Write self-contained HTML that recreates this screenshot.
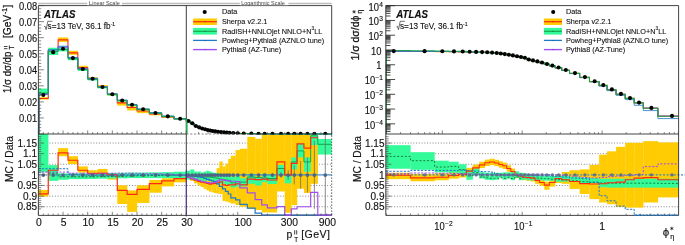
<!DOCTYPE html>
<html><head><meta charset="utf-8"><title>ATLAS</title>
<style>html,body{margin:0;padding:0;background:#fff;}body{width:685px;height:245px;overflow:hidden;}svg{display:block;stroke-width:0.14px;filter:blur(0.35px);}text{font-family:'Liberation Sans',sans-serif;stroke:#111;}</style>
</head><body>
<svg width="685" height="245" viewBox="0 0 685 245">
<defs>
<clipPath id="cl1"><rect x="38.4" y="134" width="293.3" height="81.4"/></clipPath>
<clipPath id="cl0"><rect x="38.4" y="5.6" width="293.3" height="131.4"/></clipPath>
<clipPath id="cr1"><rect x="385.8" y="134" width="292.8" height="81.4"/></clipPath>
<clipPath id="cld"><rect x="0" y="0" width="685" height="134.4"/></clipPath>
<clipPath id="cr0"><rect x="385.8" y="5.6" width="292.8" height="128.4"/></clipPath>
</defs>
<rect width="685" height="245" fill="#fff"/>
<path d="M38.4 143.04H331.7M38.4 153.66H331.7M38.4 164.28H331.7M38.4 185.52H331.7M38.4 196.14H331.7M38.4 206.76H331.7" stroke="#444" stroke-width="0.65" stroke-dasharray="1 1.75" fill="none"/>
<g clip-path="url(#cl1)">
<g fill="#ffcc03" opacity="1"><rect x="38.4" y="189.98" width="10.01" height="6.58"/><rect x="48.26" y="167.25" width="10.01" height="5.95"/><rect x="58.12" y="148.14" width="10.01" height="8.07"/><rect x="67.98" y="156.21" width="10.01" height="7.86"/><rect x="77.84" y="166.4" width="10.01" height="6.16"/><rect x="87.7" y="170.23" width="10.01" height="5.1"/><rect x="97.56" y="168.95" width="10.01" height="5.73"/><rect x="107.42" y="174.05" width="10.01" height="5.52"/><rect x="117.28" y="185.31" width="10.01" height="18.69"/><rect x="127.14" y="190.41" width="10.01" height="21.45"/><rect x="137" y="185.31" width="12.48" height="17.63"/><rect x="149.33" y="180" width="12.47" height="12.74"/><rect x="161.65" y="178.3" width="12.48" height="8.07"/><rect x="173.98" y="176.6" width="12.47" height="5.73"/><rect x="186.3" y="174.9" width="4.22" height="4.04"/><rect x="190.37" y="175.96" width="3.87" height="4.89"/><rect x="194.09" y="176.6" width="3.57" height="6.8"/><rect x="197.52" y="177.02" width="3.32" height="8.5"/><rect x="200.68" y="177.02" width="3.1" height="9.98"/><rect x="203.63" y="177.02" width="2.91" height="11.89"/><rect x="206.39" y="176.6" width="2.74" height="13.81"/><rect x="208.98" y="175.96" width="2.59" height="15.72"/><rect x="211.43" y="174.9" width="2.46" height="17.42"/><rect x="213.74" y="173.84" width="3.05" height="19.12"/><rect x="216.64" y="168.1" width="2.87" height="25.49"/><rect x="219.35" y="161.52" width="3.32" height="32.5"/><rect x="222.52" y="166.4" width="3.1" height="34.62"/><rect x="225.47" y="163.64" width="2.91" height="38.02"/><rect x="228.23" y="158.97" width="2.74" height="43.54"/><rect x="230.82" y="155.78" width="4.9" height="47.79"/><rect x="235.58" y="150.05" width="4.43" height="55.01"/><rect x="239.86" y="148.77" width="7.6" height="57.99"/><rect x="247.31" y="136.88" width="7.94" height="72"/><rect x="255.1" y="138.79" width="6.74" height="71.15"/><rect x="261.69" y="134" width="5.86" height="78.49"/><rect x="267.4" y="134" width="9.69" height="78.49"/><rect x="276.94" y="134" width="7.94" height="57.47"/><rect x="284.73" y="134" width="6.74" height="78.71"/><rect x="291.32" y="134" width="5.86" height="71.06"/><rect x="297.03" y="134" width="7.04" height="54.71"/><rect x="303.93" y="134" width="6.87" height="58.95"/><rect x="310.65" y="134" width="7.29" height="49.82"/></g>
<g fill="#33fb99" opacity="1"><rect x="38.4" y="134" width="10.01" height="38.35"/><rect x="48.26" y="165.13" width="10.01" height="15.72"/><rect x="58.12" y="173.41" width="10.01" height="6.37"/><rect x="67.98" y="173.41" width="10.01" height="5.73"/><rect x="77.84" y="173.41" width="10.01" height="5.73"/><rect x="87.7" y="173.41" width="10.01" height="5.52"/><rect x="97.56" y="173.2" width="10.01" height="5.52"/><rect x="107.42" y="172.99" width="10.01" height="5.52"/><rect x="117.28" y="172.78" width="10.01" height="5.52"/><rect x="127.14" y="172.56" width="10.01" height="5.52"/><rect x="137" y="172.56" width="12.48" height="5.52"/><rect x="149.33" y="172.35" width="12.47" height="5.73"/><rect x="161.65" y="172.14" width="12.48" height="5.95"/><rect x="173.98" y="171.71" width="12.47" height="6.37"/><rect x="186.3" y="170.65" width="4.22" height="8.92"/><rect x="190.37" y="169.38" width="3.87" height="10.62"/><rect x="194.09" y="171.5" width="3.57" height="8.5"/><rect x="197.52" y="171.5" width="3.32" height="8.92"/><rect x="200.68" y="172.35" width="3.1" height="8.5"/><rect x="203.63" y="171.5" width="2.91" height="9.35"/><rect x="206.39" y="170.65" width="2.74" height="10.2"/><rect x="208.98" y="171.5" width="2.59" height="9.35"/><rect x="211.43" y="172.35" width="2.46" height="9.35"/><rect x="213.74" y="172.78" width="3.05" height="9.35"/><rect x="216.64" y="173.2" width="2.87" height="9.77"/><rect x="219.35" y="174.05" width="3.32" height="9.77"/><rect x="222.52" y="174.48" width="3.1" height="9.98"/><rect x="225.47" y="174.9" width="2.91" height="10.2"/><rect x="228.23" y="175.32" width="2.74" height="10.2"/><rect x="230.82" y="176.6" width="4.9" height="11.04"/><rect x="235.58" y="175.96" width="4.43" height="10.62"/><rect x="239.86" y="178.3" width="7.6" height="8.07"/><rect x="247.31" y="173.84" width="7.94" height="9.98"/><rect x="255.1" y="177.02" width="6.74" height="8.5"/><rect x="261.69" y="173.63" width="5.86" height="8.5"/><rect x="267.4" y="174.69" width="9.69" height="9.35"/><rect x="276.94" y="164.92" width="7.94" height="9.77"/><rect x="284.73" y="174.9" width="6.74" height="8.5"/><rect x="291.32" y="157.48" width="5.86" height="11.89"/><rect x="297.03" y="143.46" width="7.04" height="13.81"/><rect x="303.93" y="157.48" width="6.87" height="14.23"/><rect x="310.65" y="134" width="7.29" height="11.16"/><rect x="317.79" y="139" width="14.06" height="15.51"/></g>
</g>
<g clip-path="url(#cl1)" fill="none" stroke-linejoin="miter">
<path d="M38.4 174.9H186.3" stroke="#3d86c6" stroke-width="1.1" stroke-dasharray="2.2 1.2" opacity="0.95"/>
<path d="M186.3 174.9H331.7" stroke="#3d86c6" stroke-width="1.3" opacity="0.95"/>
<path d="M251.38 174.05V175.75M258.52 173.84V175.96M264.64 173.63V176.17M272.44 173.2V176.6M281.02 171.93V177.87M288.16 169.8V180M294.27 165.34V184.46M300.62 161.09V188.71M307.42 157.27V192.53M314.37 140.92V208.88M325.31 111.18V238.62" stroke="#6e6e6e" stroke-width="0.8"/>
<path d="M48.26 173.2H58.12V176.81H67.98V176.81H77.84V176.81H87.7V176.81H97.56V176.6H107.42V176.39H117.28V176.17H127.14V175.96H137V175.75H149.33V175.54H161.65V175.32H173.98V175.11H186.3" stroke="#17803c" stroke-width="1.0" stroke-dasharray="2.2 1.5"/>
<path d="M186.3 175.11H190.37V175.75H194.09V176.17H197.52V176.6H200.68V177.02H203.63V177.02H206.39V177.02H208.98V177.02H211.43V177.45H213.74V177.87H216.64V178.3H219.35V179.15H222.52V179.57H225.47V180H228.23V180.42H230.82V182.97H235.58V181.7H239.86V182.12H247.31V177.02H255.1V177.45H261.69V177.87H267.4V178.51H276.94V168.53H284.73V174.9H291.32V161.94H297.03V150.9H303.93V161.94H310.65V135.82H317.79V144.31H331.7" stroke="#1ba34c" stroke-width="1.0"/>
<path d="M38.4 193.8H48.26V170.23H58.12V152.81H67.98V160.24H77.84V170.23H87.7V173.63H97.56V173.41H107.42V174.9H117.28V190.41H127.14V194.44H137V189.34H149.33V183.61H161.65V180.85H173.98V178.72H186.3V177.02H190.37V178.94H194.09V180.21H197.52V181.48H200.68V182.12H203.63V182.76H206.39V183.4H208.98V184.03H211.43V183.61H213.74V183.4H216.64V182.76H219.35V181.91H222.52V184.88H225.47V185.52H228.23V184.88H230.82V184.88H235.58V183.82H239.86V184.88H247.31V179.15H255.1V179.57H261.69V179.15H267.4V180H276.94V161.94H284.73V174.9H291.32V163.43H297.03V143.89H303.93V148.14H310.65V137.73H317.79" stroke="#ff2a12" stroke-width="1.2"/>
<path d="M38.4 168.74H48.26V168.74H58.12V168.74H67.98V174.26H77.84V174.9H87.7V175.32H97.56V175.32H107.42V175.32H117.28V175.11H127.14V175.11H137V174.9H149.33V174.9H161.65V174.9H173.98V175.32H186.3" stroke="#1f78c8" stroke-width="1" stroke-dasharray="2.2 1.3"/>
<path d="M186.3 175.75H190.37V175.96H194.09V176.39H197.52V177.02H200.68V177.45H203.63V178.51H206.39V179.36H208.98V180.21H211.43V180.85H213.74V181.48H216.64V183.82H219.35V186.37H222.52V188.92H225.47V191.47H228.23V194.02H230.82V197.84H235.58V199.96H239.86V204.42H247.31V208.03H255.1V213.13H261.69V215.1H267.4V215.1H276.94V215.1H284.73V215.1H291.32V215.1H297.03V215.1H303.93V215.1H310.65V215.1H317.79V215.1H331.7" stroke="#1f78c8" stroke-width="1.2"/>
<path d="M38.4 172.14H48.26V172.14H58.12V172.14H67.98V173.2H77.84V173.2H87.7V173.2H97.56V173.2H107.42V173.2H117.28V173.2H127.14V173.2H137V173.41H149.33V173.63H161.65V174.05H173.98V174.9H186.3" stroke="#a24df0" stroke-width="1" stroke-dasharray="2.2 1.3"/>
<path d="M186.3 177.02H190.37V178.09H194.09V179.15H197.52V180.42H200.68V181.27H203.63V181.91H206.39V182.55H208.98V182.97H211.43V182.76H213.74V182.33H216.64V180.85H219.35V179.57H222.52V180.21H225.47V180.63H228.23V181.06H230.82V181.27H235.58V181.7H239.86V187.86H247.31V192.95H255.1V199.54H261.69V204.85H267.4V207.82H276.94V206.55H284.73V215.1H291.32V208.88H297.03V206.76H303.93V206.76H310.65V192.32H317.79V215.1H331.7" stroke="#a24df0" stroke-width="1.2"/>
<g fill="#4d6487" stroke="none"><circle cx="43.33" cy="175.1" r="1.85"/><circle cx="53.19" cy="175.1" r="1.85"/><circle cx="63.05" cy="175.1" r="1.85"/><circle cx="72.91" cy="175.1" r="1.85"/><circle cx="82.77" cy="175.1" r="1.85"/><circle cx="92.63" cy="175.1" r="1.85"/><circle cx="102.49" cy="175.1" r="1.85"/><circle cx="112.35" cy="175.1" r="1.85"/><circle cx="122.21" cy="175.1" r="1.85"/><circle cx="132.07" cy="175.1" r="1.85"/><circle cx="143.16" cy="175.1" r="1.85"/><circle cx="155.49" cy="175.1" r="1.85"/><circle cx="167.81" cy="175.1" r="1.85"/><circle cx="180.14" cy="175.1" r="1.85"/><circle cx="188.39" cy="175.1" r="1.85"/><circle cx="192.27" cy="175.1" r="1.85"/><circle cx="195.84" cy="175.1" r="1.85"/><circle cx="199.13" cy="175.1" r="1.85"/><circle cx="202.18" cy="175.1" r="1.85"/><circle cx="205.04" cy="175.1" r="1.85"/><circle cx="207.71" cy="175.1" r="1.85"/><circle cx="210.22" cy="175.1" r="1.85"/><circle cx="212.6" cy="175.1" r="1.85"/><circle cx="215.21" cy="175.1" r="1.85"/><circle cx="218.02" cy="175.1" r="1.85"/><circle cx="220.97" cy="175.1" r="1.85"/><circle cx="224.02" cy="175.1" r="1.85"/><circle cx="226.87" cy="175.1" r="1.85"/><circle cx="229.55" cy="175.1" r="1.85"/><circle cx="233.27" cy="175.1" r="1.85"/><circle cx="237.77" cy="175.1" r="1.85"/><circle cx="243.74" cy="175.1" r="1.85"/><circle cx="251.38" cy="175.1" r="1.85"/><circle cx="258.52" cy="175.1" r="1.85"/><circle cx="264.64" cy="175.1" r="1.85"/><circle cx="272.44" cy="175.1" r="1.85"/><circle cx="281.02" cy="175.1" r="1.85"/><circle cx="288.16" cy="175.1" r="1.85"/><circle cx="294.27" cy="175.1" r="1.85"/><circle cx="300.62" cy="175.1" r="1.85"/><circle cx="307.42" cy="175.1" r="1.85"/><circle cx="314.37" cy="175.1" r="1.85"/><circle cx="325.31" cy="175.1" r="1.85"/></g>
</g>
<g clip-path="url(#cl0)" fill="none">
<g fill="#ffcc03" stroke="none"><rect x="38.4" y="97.17" width="9.96" height="2.41"/><rect x="48.26" y="48.6" width="9.96" height="3.49"/><rect x="58.12" y="37.44" width="9.96" height="4.44"/><rect x="67.98" y="50.8" width="9.96" height="4.01"/><rect x="77.84" y="65.8" width="9.96" height="3.09"/><rect x="87.7" y="76.97" width="9.96" height="2.53"/><rect x="97.56" y="85.06" width="9.96" height="2.47"/><rect x="107.42" y="93.44" width="9.96" height="2.23"/><rect x="117.28" y="101.5" width="9.96" height="4.15"/><rect x="127.14" y="106.32" width="9.96" height="4.15"/><rect x="137" y="109.89" width="12.43" height="3.25"/><rect x="149.33" y="112.88" width="12.42" height="2.46"/><rect x="161.65" y="116.03" width="12.43" height="1.87"/><rect x="173.98" y="118.27" width="12.42" height="1.61"/><rect x="186.3" y="120.4" width="4.17" height="1.45"/><rect x="190.37" y="122.7" width="3.82" height="1.45"/><rect x="194.09" y="125.45" width="3.52" height="1.46"/><rect x="197.52" y="126.83" width="3.27" height="1.47"/><rect x="200.68" y="127.89" width="3.05" height="1.46"/><rect x="203.63" y="128.72" width="2.86" height="1.46"/><rect x="206.39" y="129.37" width="2.69" height="1.46"/><rect x="208.98" y="129.9" width="2.54" height="1.46"/><rect x="211.43" y="130.33" width="2.41" height="1.45"/><rect x="213.74" y="130.75" width="3" height="1.44"/><rect x="216.64" y="131.08" width="2.82" height="1.47"/><rect x="219.35" y="131.38" width="3.27" height="1.49"/><rect x="222.52" y="131.74" width="3.05" height="1.46"/><rect x="225.47" y="131.98" width="2.86" height="1.44"/><rect x="228.23" y="132.15" width="2.69" height="1.44"/><rect x="230.82" y="132.38" width="4.85" height="1.41"/><rect x="235.58" y="132.59" width="4.38" height="1.39"/><rect x="239.86" y="132.82" width="7.55" height="1.34"/><rect x="247.31" y="133.01" width="7.89" height="1.31"/><rect x="255.1" y="133.14" width="6.69" height="1.27"/><rect x="261.69" y="133.21" width="5.81" height="1.26"/><rect x="267.4" y="133.28" width="9.64" height="1.24"/><rect x="276.94" y="133.33" width="7.89" height="1.22"/><rect x="284.73" y="133.35" width="6.69" height="1.22"/><rect x="291.32" y="133.37" width="5.81" height="1.21"/><rect x="297.03" y="133.38" width="6.99" height="1.21"/><rect x="303.93" y="133.38" width="6.82" height="1.21"/><rect x="310.65" y="133.39" width="7.24" height="1.21"/></g>
<path d="M38.9 134V98.47H48.26V50.34H58.12V39.91H67.98V52.85H77.84V67.57H87.7V78.46H97.56V86.64H107.42V94.2H117.28V102.9H127.14V107.48H137V110.96H149.33V113.84H161.65V116.84H173.98V119.03H186.3V121.13H190.37V123.45H194.09V126.19H197.52V127.57H200.68V128.62H203.63V129.44H206.39V130.1H208.98V130.64H211.43V131.06H213.74V131.47H216.64V131.84H219.35V132.16H222.52V132.48H225.47V132.71H228.23V132.89H230.82V133.11H235.58V133.31H239.86V133.51H247.31V133.67H255.1V133.78H261.69V133.85H267.4V133.9H276.94V133.94H284.73V133.96H291.32V133.97H297.03V133.98H303.93V133.98H310.65V133.99H317.79" stroke="#ff2a12" stroke-width="1.1"/>
<g fill="#33fb99" stroke="none"><rect x="38.4" y="88.55" width="9.96" height="6.58"/><rect x="48.26" y="47.78" width="9.96" height="7.26"/><rect x="58.12" y="47.58" width="9.96" height="3.76"/><rect x="67.98" y="56.95" width="9.96" height="3.25"/><rect x="77.84" y="67.94" width="9.96" height="2.96"/><rect x="87.7" y="77.8" width="9.96" height="2.64"/><rect x="97.56" y="86" width="9.96" height="2.42"/><rect x="107.42" y="93.24" width="9.96" height="2.23"/><rect x="117.28" y="99.52" width="9.96" height="2.07"/><rect x="127.14" y="103.87" width="9.96" height="1.96"/><rect x="137" y="108.41" width="12.43" height="1.84"/><rect x="149.33" y="112.12" width="12.42" height="1.77"/><rect x="161.65" y="115.52" width="12.43" height="1.69"/><rect x="173.98" y="117.92" width="12.42" height="1.66"/><rect x="186.3" y="120.14" width="4.17" height="1.75"/><rect x="190.37" y="122.37" width="3.82" height="1.74"/><rect x="194.09" y="125.26" width="3.52" height="1.52"/><rect x="197.52" y="126.66" width="3.27" height="1.48"/><rect x="200.68" y="127.76" width="3.05" height="1.42"/><rect x="203.63" y="128.59" width="2.86" height="1.41"/><rect x="206.39" y="129.26" width="2.69" height="1.39"/><rect x="208.98" y="129.83" width="2.54" height="1.35"/><rect x="211.43" y="130.3" width="2.41" height="1.33"/><rect x="213.74" y="130.73" width="3" height="1.32"/><rect x="216.64" y="131.13" width="2.82" height="1.3"/><rect x="219.35" y="131.49" width="3.27" height="1.29"/><rect x="222.52" y="131.8" width="3.05" height="1.27"/><rect x="225.47" y="132.05" width="2.86" height="1.26"/><rect x="228.23" y="132.24" width="2.69" height="1.26"/><rect x="230.82" y="132.47" width="4.85" height="1.25"/><rect x="235.58" y="132.68" width="4.38" height="1.24"/><rect x="239.86" y="132.89" width="7.55" height="1.22"/><rect x="247.31" y="133.07" width="7.89" height="1.22"/><rect x="255.1" y="133.18" width="6.69" height="1.21"/><rect x="261.69" y="133.24" width="5.81" height="1.21"/><rect x="267.4" y="133.3" width="9.64" height="1.21"/><rect x="276.94" y="133.34" width="7.89" height="1.21"/><rect x="284.73" y="133.36" width="6.69" height="1.21"/><rect x="291.32" y="133.37" width="5.81" height="1.21"/><rect x="297.03" y="133.38" width="6.99" height="1.21"/><rect x="303.93" y="133.39" width="6.82" height="1.21"/><rect x="310.65" y="133.39" width="7.24" height="1.21"/><rect x="317.79" y="133.39" width="14.01" height="1.21"/></g>
<path d="M38.9 134V94.49H48.26V51.08H58.12V47.67H67.98V57.48H77.84V68.48H87.7V78.35H97.56V86.6H107.42V93.88H117.28V100.19H127.14V104.56H137V109.11H149.33V112.85H161.65V116.27H173.98V118.75H186.3V121.13H190.37V123.41H194.09V126.15H197.52V127.54H200.68V128.6H203.63V129.43H206.39V130.09H208.98V130.62H211.43V131.05H213.74V131.45H216.64V131.82H219.35V132.14H222.52V132.45H225.47V132.68H228.23V132.87H230.82V133.09H235.58V133.3H239.86V133.52H247.31V133.7H255.1V133.81H261.69V133.87H267.4V133.92H276.94V133.95H284.73V133.97H291.32V133.98H297.03V133.98H303.93V133.99H310.65V133.99H317.79V134H331.7" stroke="#a24df0" stroke-width="0.9"/>
<path d="M38.9 134V93.87H48.26V49.77H58.12V46.3H67.98V57.86H77.84V69H87.7V78.9H97.56V87.07H107.42V94.28H117.28V100.49H127.14V104.82H137V109.28H149.33V112.97H161.65V116.34H173.98V118.78H186.3V121.05H190.37V123.3H194.09V126.04H197.52V127.43H200.68V128.5H203.63V129.35H206.39V130.03H208.98V130.57H211.43V131.02H213.74V131.44H216.64V131.85H219.35V132.2H222.52V132.51H225.47V132.75H228.23V132.94H230.82V133.16H235.58V133.36H239.86V133.56H247.31V133.72H255.1V133.82H261.69V133.89H267.4V133.93H276.94V133.96H284.73V133.97H291.32V133.98H297.03V133.99H303.93V133.99H310.65V133.99H317.79V134H331.7" stroke="#1f78c8" stroke-width="1.0"/>
<path d="M38.9 134V93.05H48.26V51.49H58.12V49.54H67.98V58.77H77.84V69.58H87.7V79.28H97.56V87.35H107.42V94.47H117.28V100.66H127.14V104.94H137V109.38H149.33V113.04H161.65V116.38H173.98V118.77H186.3V121.01H190.37V123.29H194.09V126.04H197.52V127.42H200.68V128.49H203.63V129.32H206.39V129.98H208.98V130.52H211.43V130.97H213.74V131.4H216.64V131.79H219.35V132.14H222.52V132.44H225.47V132.68H228.23V132.87H230.82V133.1H235.58V133.3H239.86V133.5H247.31V133.67H255.1V133.78H261.69V133.85H267.4V133.9H276.94V133.94H284.73V133.96H291.32V133.97H297.03V133.98H303.93V133.99H310.65V133.99H317.79V133.99H331.7" stroke="#1ba34c" stroke-width="1.0"/>
<path d="M186.9 118.75V134" stroke="#1ba34c" stroke-width="1.2"/>
</g>
<g fill="#000" clip-path="url(#cld)"><circle cx="43.33" cy="95" r="2.05"/><circle cx="53.19" cy="52.14" r="2.05"/><circle cx="63.05" cy="48.77" r="2.05"/><circle cx="72.91" cy="58.08" r="2.05"/><circle cx="82.77" cy="69" r="2.05"/><circle cx="92.63" cy="78.79" r="2.05"/><circle cx="102.49" cy="86.97" r="2.05"/><circle cx="112.35" cy="94.2" r="2.05"/><circle cx="122.21" cy="100.46" r="2.05"/><circle cx="132.07" cy="104.79" r="2.05"/><circle cx="143.16" cy="109.28" r="2.05"/><circle cx="155.49" cy="112.97" r="2.05"/><circle cx="167.81" cy="116.34" r="2.05"/><circle cx="180.14" cy="118.75" r="2.05"/><circle cx="188.39" cy="121" r="2.05"/><circle cx="192.27" cy="123.25" r="2.05"/><circle cx="195.84" cy="125.99" r="2.05"/><circle cx="199.13" cy="127.36" r="2.05"/><circle cx="202.18" cy="128.43" r="2.05"/><circle cx="205.04" cy="129.27" r="2.05"/><circle cx="207.71" cy="129.94" r="2.05"/><circle cx="210.22" cy="130.49" r="2.05"/><circle cx="212.6" cy="130.93" r="2.05"/><circle cx="215.21" cy="131.36" r="2.05"/><circle cx="218.02" cy="131.75" r="2.05"/><circle cx="220.97" cy="132.1" r="2.05"/><circle cx="224.02" cy="132.41" r="2.05"/><circle cx="226.87" cy="132.65" r="2.05"/><circle cx="229.55" cy="132.84" r="2.05"/><circle cx="233.27" cy="133.06" r="2.05"/><circle cx="237.77" cy="133.28" r="2.05"/><circle cx="243.74" cy="133.49" r="2.05"/><circle cx="251.38" cy="133.67" r="2.05"/><circle cx="258.52" cy="133.78" r="2.05"/><circle cx="264.64" cy="133.8" r="2.05"/><circle cx="272.44" cy="133.8" r="2.05"/><circle cx="281.02" cy="133.8" r="2.05"/><circle cx="288.16" cy="133.8" r="2.05"/><circle cx="294.27" cy="133.8" r="2.05"/><circle cx="300.62" cy="133.8" r="2.05"/><circle cx="307.42" cy="133.8" r="2.05"/><circle cx="314.37" cy="133.8" r="2.05"/><circle cx="325.31" cy="133.8" r="2.05"/></g>
<path d="M38.4 215.4V5.6H331.7V135.5M38.4 134H186.3M38.4 215.4H331.7" fill="none" stroke="#303030" stroke-width="0.9"/><path d="M186.3 134H331.7" fill="none" stroke="#555" stroke-width="0.7" stroke-dasharray="2.2 1.6"/><path d="M331.7 135.5V215.4" fill="none" stroke="#303030" stroke-width="0.9" stroke-dasharray="1.3 1.7"/>
<path d="M261.69 215.4H284.73M291.32 215.4H317.79" stroke="#41699a" stroke-width="1.1" fill="none"/>
<path d="M284.73 215.4H291.32M317.79 215.4H331.7" stroke="#8a4fd0" stroke-width="1.1" fill="none"/>
<path d="M186.3 5.6V216.4" stroke="#333" stroke-width="0.95"/>
<path d="M186.3 170V215.4" stroke="#5b2aa8" stroke-width="1.1" opacity="0.75"/>
<path d="M186.5 118.78V134" stroke="#22b455" stroke-width="1.3"/>
<path d="M38.4 134h5.5M38.4 130.79h2.8M38.4 127.58h2.8M38.4 124.37h2.8M38.4 121.16h2.8M38.4 117.95h5.5M38.4 114.74h2.8M38.4 111.53h2.8M38.4 108.32h2.8M38.4 105.11h2.8M38.4 101.9h5.5M38.4 98.69h2.8M38.4 95.48h2.8M38.4 92.27h2.8M38.4 89.06h2.8M38.4 85.85h5.5M38.4 82.64h2.8M38.4 79.43h2.8M38.4 76.22h2.8M38.4 73.01h2.8M38.4 69.8h5.5M38.4 66.59h2.8M38.4 63.38h2.8M38.4 60.17h2.8M38.4 56.96h2.8M38.4 53.75h5.5M38.4 50.54h2.8M38.4 47.33h2.8M38.4 44.12h2.8M38.4 40.91h2.8M38.4 37.7h5.5M38.4 34.49h2.8M38.4 31.28h2.8M38.4 28.07h2.8M38.4 24.86h2.8M38.4 21.65h5.5M38.4 18.44h2.8M38.4 15.23h2.8M38.4 12.02h2.8M38.4 8.81h2.8M38.4 5.6h5.5M38.4 208.88h2.8M38.4 206.76h5.5M38.4 204.64h2.8M38.4 202.51h2.8M38.4 200.39h2.8M38.4 198.26h2.8M38.4 196.14h5.5M38.4 194.02h2.8M38.4 191.89h2.8M38.4 189.77h2.8M38.4 187.64h2.8M38.4 185.52h5.5M38.4 183.4h2.8M38.4 181.27h2.8M38.4 179.15h2.8M38.4 177.02h2.8M38.4 174.9h5.5M38.4 172.78h2.8M38.4 170.65h2.8M38.4 168.53h2.8M38.4 166.4h2.8M38.4 164.28h5.5M38.4 162.16h2.8M38.4 160.03h2.8M38.4 157.91h2.8M38.4 155.78h2.8M38.4 153.66h5.5M38.4 151.54h2.8M38.4 149.41h2.8M38.4 147.29h2.8M38.4 145.16h2.8M38.4 143.04h5.5M38.4 140.92h2.8M38.4 138.79h2.8M38.4 136.67h2.8M38.4 134v-3.6M38.4 215.4v-3.6M43.33 134v-1.9M43.33 215.4v-1.9M48.26 134v-1.9M48.26 215.4v-1.9M53.19 134v-1.9M53.19 215.4v-1.9M58.12 134v-1.9M58.12 215.4v-1.9M63.05 134v-3.6M63.05 215.4v-3.6M67.98 134v-1.9M67.98 215.4v-1.9M72.91 134v-1.9M72.91 215.4v-1.9M77.84 134v-1.9M77.84 215.4v-1.9M82.77 134v-1.9M82.77 215.4v-1.9M87.7 134v-3.6M87.7 215.4v-3.6M92.63 134v-1.9M92.63 215.4v-1.9M97.56 134v-1.9M97.56 215.4v-1.9M102.49 134v-1.9M102.49 215.4v-1.9M107.42 134v-1.9M107.42 215.4v-1.9M112.35 134v-3.6M112.35 215.4v-3.6M117.28 134v-1.9M117.28 215.4v-1.9M122.21 134v-1.9M122.21 215.4v-1.9M127.14 134v-1.9M127.14 215.4v-1.9M132.07 134v-1.9M132.07 215.4v-1.9M137 134v-3.6M137 215.4v-3.6M141.93 134v-1.9M141.93 215.4v-1.9M146.86 134v-1.9M146.86 215.4v-1.9M151.79 134v-1.9M151.79 215.4v-1.9M156.72 134v-1.9M156.72 215.4v-1.9M161.65 134v-3.6M161.65 215.4v-3.6M166.58 134v-1.9M166.58 215.4v-1.9M171.51 134v-1.9M171.51 215.4v-1.9M176.44 134v-1.9M176.44 215.4v-1.9M181.37 134v-1.9M181.37 215.4v-1.9M186.3 134v-3.6M186.3 215.4v-3.6M198.6 134v-1.9M198.6 215.4v-1.9M208.14 134v-1.9M208.14 215.4v-1.9M215.93 134v-1.9M215.93 215.4v-1.9M222.52 134v-1.9M222.52 215.4v-1.9M228.23 134v-1.9M228.23 215.4v-1.9M233.27 134v-1.9M233.27 215.4v-1.9M237.77 134v-3.6M237.77 215.4v-3.6M267.4 134v-1.9M267.4 215.4v-1.9M284.73 134v-1.9M284.73 215.4v-1.9M297.03 134v-1.9M297.03 215.4v-1.9M306.57 134v-1.9M306.57 215.4v-1.9M314.37 134v-1.9M314.37 215.4v-1.9M320.96 134v-1.9M320.96 215.4v-1.9M326.66 134v-1.9M326.66 215.4v-1.9M331.7 134v-1.9M331.7 215.4v-1.9" stroke="#444" stroke-width="0.65" fill="none"/>
<path d="M38.4 3.5H331.7" stroke="#bcbcbc" stroke-width="1.7"/>
<rect x="87.0" y="0" width="35" height="5.2" fill="#fff"/>
<rect x="239.8" y="0" width="48.6" height="5.2" fill="#fff"/>
<text x="104.4" y="5.4" font-size="5.5" text-anchor="middle" fill="#444" style="stroke-width:0">Linear Scale</text>
<text x="263" y="5.4" font-size="5.5" text-anchor="middle" fill="#444" style="stroke-width:0">Logarithmic Scale</text>
<text transform="translate(37.2 122.25) scale(0.92 1)" font-size="10.2" text-anchor="end" fill="#111" >0.01</text>
<text transform="translate(37.2 106.2) scale(0.92 1)" font-size="10.2" text-anchor="end" fill="#111" >0.02</text>
<text transform="translate(37.2 90.15) scale(0.92 1)" font-size="10.2" text-anchor="end" fill="#111" >0.03</text>
<text transform="translate(37.2 74.1) scale(0.92 1)" font-size="10.2" text-anchor="end" fill="#111" >0.04</text>
<text transform="translate(37.2 58.05) scale(0.92 1)" font-size="10.2" text-anchor="end" fill="#111" >0.05</text>
<text transform="translate(37.2 42) scale(0.92 1)" font-size="10.2" text-anchor="end" fill="#111" >0.06</text>
<text transform="translate(37.2 25.95) scale(0.92 1)" font-size="10.2" text-anchor="end" fill="#111" >0.07</text>
<text transform="translate(37.2 10.2) scale(0.92 1)" font-size="10.2" text-anchor="end" fill="#111" >0.08</text>
<text transform="translate(37.1 146.69) scale(0.94 1)" font-size="10.7" text-anchor="end" fill="#111" >1.15</text>
<text transform="translate(37.1 157.31) scale(0.94 1)" font-size="10.7" text-anchor="end" fill="#111" >1.1</text>
<text transform="translate(37.1 167.93) scale(0.94 1)" font-size="10.7" text-anchor="end" fill="#111" >1.05</text>
<text transform="translate(37.1 178.55) scale(0.94 1)" font-size="10.7" text-anchor="end" fill="#111" >1</text>
<text transform="translate(37.1 189.17) scale(0.94 1)" font-size="10.7" text-anchor="end" fill="#111" >0.95</text>
<text transform="translate(37.1 199.79) scale(0.94 1)" font-size="10.7" text-anchor="end" fill="#111" >0.9</text>
<text transform="translate(37.1 210.41) scale(0.94 1)" font-size="10.7" text-anchor="end" fill="#111" >0.85</text>
<text transform="translate(39 226.2) scale(0.96 1)" font-size="10.8" text-anchor="middle" fill="#111" >0</text>
<text transform="translate(63.65 226.2) scale(0.96 1)" font-size="10.8" text-anchor="middle" fill="#111" >5</text>
<text transform="translate(88.3 226.2) scale(0.96 1)" font-size="10.8" text-anchor="middle" fill="#111" >10</text>
<text transform="translate(112.95 226.2) scale(0.96 1)" font-size="10.8" text-anchor="middle" fill="#111" >15</text>
<text transform="translate(137.6 226.2) scale(0.96 1)" font-size="10.8" text-anchor="middle" fill="#111" >20</text>
<text transform="translate(162.25 226.2) scale(0.96 1)" font-size="10.8" text-anchor="middle" fill="#111" >25</text>
<text transform="translate(186.9 226.2) scale(0.96 1)" font-size="10.8" text-anchor="middle" fill="#111" >30</text>
<text transform="translate(243.1 226.2) scale(0.96 1)" font-size="10.8" text-anchor="middle" fill="#111" >100</text>
<text transform="translate(289.4 226.2) scale(0.96 1)" font-size="10.8" text-anchor="middle" fill="#111" >300</text>
<text transform="translate(327.4 226.2) scale(0.96 1)" font-size="10.8" text-anchor="middle" fill="#111" >900</text>
<g fill="#111"><text x="286.4" y="238.1" font-size="10.4">p</text><path d="M294.7 230.2v4.3M296.7 230.2v4.3" stroke="#111" stroke-width="0.8" fill="none"/><text x="294.2" y="242.3" font-size="6.3">T</text><text x="301.3" y="238.1" font-size="10.6" textLength="28.6" lengthAdjust="spacing">[GeV]</text></g>
<g transform="translate(11.3 93.0) rotate(-90)" fill="#111" font-size="11.2" style="stroke-width:0.25px"><text x="0" y="0" textLength="41.3" lengthAdjust="spacingAndGlyphs">1/σ dσ/dp</text><path d="M44.3 -7.4v3.6M46.5 -7.4v3.6" stroke="#111" stroke-width="0.8" fill="none"/><text x="43.4" y="2.8" font-size="6.5">T</text><text x="54.9" y="0" textLength="23.2" lengthAdjust="spacingAndGlyphs">[GeV</text><text x="79.0" y="-4.4" font-size="6.8">-1</text><text x="85.6" y="0" textLength="2.8" lengthAdjust="spacingAndGlyphs">]</text></g>
<g transform="translate(12.9 182.0) rotate(-90)"><text id="mc1" x="0" y="0" font-size="10.2" fill="#111">MC / Data</text></g>
<text transform="translate(43.9 17.9) scale(1 1.1)" font-size="9.7" fill="#111" font-weight="bold" font-style="italic" style="stroke-width:0.15px">ATLAS</text>
<g fill="#111" style="stroke-width:0.12px"><path d="M44.1 26.7l0.9 -0.5l1.1 3.4l1.7 -8.3h4.7" fill="none" stroke="#111" stroke-width="0.6"/><text x="47.6" y="29.3" font-size="8.2">s=13 TeV, 36.1 fb<tspan font-size="5" dy="-3.6">-1</tspan></text></g>
<circle cx="204.7" cy="12.0" r="2.05" fill="#000"/><rect x="193.1" y="18.5" width="23.8" height="6.5" fill="#ffcc03"/><path d="M193.1 21.7H216.9" stroke="#ff2a12" stroke-width="1.25"/><rect x="193.1" y="27.9" width="23.8" height="6.7" fill="#33fb99"/><path d="M193.1 31.3H216.9" stroke="#1ba34c" stroke-width="1.15"/><path d="M193.1 40.4H216.9" stroke="#1f78c8" stroke-width="1.3"/><path d="M193.1 49.6H216.9" stroke="#a24df0" stroke-width="1.4"/><path d="M205 21.1v1.2M205 30.7v1.2M205 39.9v1M205 49.1v1" stroke="#222" stroke-width="0.7" opacity="0.7"/><g font-size="7.3" fill="#111" style="stroke-width:0.1px"><text x="221.9" y="14.1">Data</text><text x="221.9" y="24.2">Sherpa v2.2.1</text><text x="221.9" y="33.6">RadISH+NNLOjet NNLO+N<tspan font-size="4.8" dy="-3.9">3</tspan><tspan dy="3.9">LL</tspan></text><text x="221.9" y="43.0">Powheg+Pythia8 (AZNLO tune)</text><text x="221.9" y="51.8">Pythia8 (AZ-Tune)</text></g>
<path d="M385.8 143.04H678.6M385.8 153.66H678.6M385.8 164.28H678.6M385.8 185.52H678.6M385.8 196.14H678.6M385.8 206.76H678.6" stroke="#444" stroke-width="0.65" stroke-dasharray="1 1.75" fill="none"/>
<g clip-path="url(#cr1)">
<g fill="#ffcc03" opacity="1"><rect x="385.8" y="172.78" width="24.85" height="6.37"/><rect x="410.5" y="173.84" width="24.2" height="7.43"/><rect x="434.56" y="173.2" width="14.22" height="7.01"/><rect x="448.63" y="172.35" width="10.13" height="6.37"/><rect x="458.61" y="171.08" width="7.89" height="6.37"/><rect x="466.35" y="167.89" width="6.48" height="6.58"/><rect x="472.68" y="164.7" width="6.72" height="6.37"/><rect x="479.25" y="161.73" width="5.67" height="6.37"/><rect x="484.77" y="159.61" width="4.91" height="6.37"/><rect x="489.53" y="158.76" width="5.12" height="6.37"/><rect x="494.49" y="159.82" width="4.49" height="6.37"/><rect x="498.83" y="161.31" width="4.01" height="6.37"/><rect x="502.69" y="162.58" width="4.17" height="6.37"/><rect x="506.71" y="165.34" width="4.24" height="6.37"/><rect x="510.8" y="168.53" width="4.24" height="5.95"/><rect x="514.89" y="172.14" width="4.19" height="5.95"/><rect x="518.93" y="173.2" width="4.11" height="5.95"/><rect x="522.89" y="174.26" width="4.01" height="5.95"/><rect x="526.75" y="174.9" width="4.17" height="5.95"/><rect x="530.77" y="175.54" width="4.48" height="5.95"/><rect x="535.09" y="177.45" width="4.63" height="6.37"/><rect x="539.58" y="179.15" width="4.86" height="6.8"/><rect x="544.29" y="181.7" width="5.26" height="8.07"/><rect x="549.4" y="178.72" width="5.84" height="7.86"/><rect x="555.09" y="175.32" width="6.74" height="7.65"/><rect x="561.68" y="171.93" width="7.98" height="11.89"/><rect x="569.51" y="170.23" width="10.31" height="18.69"/><rect x="579.67" y="169.38" width="9.95" height="24.64"/><rect x="589.47" y="164.92" width="9.81" height="34.2"/><rect x="599.13" y="154.72" width="8.06" height="47.79"/><rect x="607.04" y="151.32" width="9.19" height="52.89"/><rect x="616.08" y="146.86" width="9.29" height="60.11"/><rect x="625.22" y="142.83" width="9.13" height="64.78"/><rect x="634.2" y="142.83" width="9.24" height="64.78"/><rect x="643.29" y="141.13" width="14.81" height="61.38"/><rect x="657.95" y="142.4" width="20.8" height="55.01"/></g>
<g fill="#33fb99" opacity="1"><rect x="385.8" y="145.16" width="24.85" height="23.58"/><rect x="410.5" y="152.17" width="24.2" height="17.63"/><rect x="434.56" y="160.67" width="14.22" height="11.68"/><rect x="448.63" y="161.73" width="10.13" height="11.04"/><rect x="458.61" y="164.28" width="7.89" height="9.77"/><rect x="466.35" y="171.5" width="6.48" height="8.28"/><rect x="472.68" y="168.53" width="6.72" height="6.8"/><rect x="479.25" y="172.14" width="5.67" height="6.37"/><rect x="484.77" y="172.78" width="4.91" height="7.01"/><rect x="489.53" y="172.78" width="5.12" height="7.43"/><rect x="494.49" y="172.78" width="4.49" height="7.01"/><rect x="498.83" y="172.78" width="4.01" height="4.89"/><rect x="502.69" y="172.35" width="4.17" height="7.43"/><rect x="506.71" y="172.35" width="4.24" height="5.95"/><rect x="510.8" y="172.35" width="4.24" height="7.86"/><rect x="514.89" y="171.29" width="4.19" height="6.37"/><rect x="518.93" y="172.78" width="4.11" height="7.43"/><rect x="522.89" y="173.2" width="4.01" height="6.37"/><rect x="526.75" y="174.48" width="4.17" height="5.73"/><rect x="530.77" y="175.32" width="4.48" height="5.1"/><rect x="535.09" y="175.54" width="4.63" height="4.89"/><rect x="539.58" y="175.75" width="4.86" height="4.67"/><rect x="544.29" y="175.75" width="5.26" height="4.89"/><rect x="549.4" y="175.75" width="5.84" height="5.1"/><rect x="555.09" y="175.54" width="6.74" height="6.16"/><rect x="561.68" y="175.96" width="7.98" height="5.73"/><rect x="569.51" y="176.81" width="10.31" height="4.04"/><rect x="579.67" y="177.45" width="9.95" height="5.73"/><rect x="589.47" y="178.09" width="9.81" height="5.1"/><rect x="599.13" y="178.72" width="8.06" height="8.5"/><rect x="607.04" y="178.72" width="9.19" height="8.92"/><rect x="616.08" y="178.72" width="9.29" height="8.92"/><rect x="625.22" y="178.72" width="9.13" height="8.92"/><rect x="634.2" y="178.72" width="9.24" height="8.92"/><rect x="643.29" y="178.72" width="14.81" height="8.92"/><rect x="657.95" y="178.72" width="20.8" height="8.92"/></g>
</g>
<path d="M385.8 174.9H685.6" stroke="#3d86c6" stroke-width="1.2" stroke-dasharray="2 1.6" fill="none"/>
<g clip-path="url(#cr1)" fill="none">
<path d="M385.8 156.42H410.5V160.67H434.56V167.04H448.63V166.4H458.61V169.59H466.35V175.75H472.68V172.78H479.25V177.02H484.77V177.87H489.53V178.3H494.49V178.3H498.83V177.87H502.69V178.3H506.71V177.87H510.8V178.51H514.89V177.02H518.93V178.3H522.89V177.45H526.75V177.66H530.77V177.87H535.09V178.09H539.58V178.3H544.29V178.72H549.4V179.15H555.09V179.57H561.68V180H569.51V180.85H579.67V181.7H589.47V182.55H599.13V182.97H607.04V183.18H616.08V183.18H625.22V183.18H634.2V183.18H643.29V183.18H657.95V183.4H678.6" stroke="#17803c" stroke-width="1" stroke-dasharray="2 1.8"/>
<path d="M385.8 175.32H410.5V177.87H434.56V177.24H448.63V175.54H458.61V174.26H466.35V171.08H472.68V167.89H479.25V164.92H484.77V162.79H489.53V161.94H494.49V163.01H498.83V164.49H502.69V165.77H506.71V168.53H510.8V171.5H514.89V175.11H518.93V176.17H522.89V177.24H526.75V177.66H530.77V178.09H535.09V180.42H539.58V182.55H544.29V185.1H549.4V182.55H555.09V178.51H561.68V179.79H569.51V181.48H579.67V183.61H589.47V184.03H599.13V183.82H607.04V182.76H616.08V182.12H625.22V179.79H634.2V178.09H643.29V177.66H657.95V179.79H678.6" stroke="#ff2a12" stroke-width="1.1"/>
<path d="M385.8 171.29H410.5V170.44H434.56V170.44H448.63V170.44H458.61V170.23H466.35V170.65H472.68V171.08H479.25V171.5H484.77V171.71H489.53V172.14H494.49V173.63H498.83V174.48H502.69V174.9H506.71V175.11H510.8V175.11H514.89V175.32H518.93V175.32H522.89V175.32H526.75V175.32H530.77V175.32H535.09V175.54H539.58V175.54H544.29V175.75H549.4V175.96H555.09V176.39H561.68V177.02H569.51V178.09H579.67V178.72H589.47V182.12H599.13V195.72H607.04V200.81H616.08V206.12H625.22V209.31H634.2V215H643.29V215H657.95V215H678.6" stroke="#1f78c8" stroke-width="1" stroke-dasharray="2.2 1.4"/>
<path d="M385.8 173.63H410.5V172.99H434.56V173.2H448.63V173.41H458.61V173.63H466.35V173.84H472.68V174.05H479.25V174.26H484.77V174.48H489.53V174.69H494.49V174.69H498.83V174.69H502.69V174.69H506.71V174.69H510.8V174.48H514.89V174.48H518.93V174.26H522.89V174.26H526.75V174.26H530.77V174.26H535.09V174.26H539.58V174.26H544.29V174.48H549.4V174.69H555.09V174.9H561.68V175.32H569.51V176.17H579.67V177.45H589.47V178.09H599.13V177.45H607.04V176.6H616.08V175.96H625.22V175.32H634.2V174.48H643.29V166.62H657.95V163.86H678.6" stroke="#a24df0" stroke-width="1" stroke-dasharray="2.2 1.4"/>
<g fill="#5e6f8a" stroke="none" opacity="0.95"><circle cx="393.7" cy="174.9" r="1.7"/><circle cx="424.57" cy="174.9" r="1.7"/><circle cx="442.3" cy="174.9" r="1.7"/><circle cx="453.98" cy="174.9" r="1.7"/><circle cx="462.7" cy="174.9" r="1.7"/><circle cx="469.66" cy="174.9" r="1.7"/><circle cx="476.12" cy="174.9" r="1.7"/><circle cx="482.12" cy="174.9" r="1.7"/><circle cx="487.23" cy="174.9" r="1.7"/><circle cx="492.1" cy="174.9" r="1.7"/><circle cx="496.73" cy="174.9" r="1.7"/><circle cx="500.82" cy="174.9" r="1.7"/><circle cx="504.76" cy="174.9" r="1.7"/><circle cx="508.82" cy="174.9" r="1.7"/><circle cx="512.9" cy="174.9" r="1.7"/><circle cx="516.97" cy="174.9" r="1.7"/><circle cx="520.96" cy="174.9" r="1.7"/><circle cx="524.87" cy="174.9" r="1.7"/><circle cx="528.81" cy="174.9" r="1.7"/><circle cx="533" cy="174.9" r="1.7"/><circle cx="537.41" cy="174.9" r="1.7"/><circle cx="542.01" cy="174.9" r="1.7"/><circle cx="546.94" cy="174.9" r="1.7"/><circle cx="552.36" cy="174.9" r="1.7"/><circle cx="558.54" cy="174.9" r="1.7"/><circle cx="565.82" cy="174.9" r="1.7"/><circle cx="574.97" cy="174.9" r="1.7"/><circle cx="584.92" cy="174.9" r="1.7"/><circle cx="594.64" cy="174.9" r="1.7"/><circle cx="603.31" cy="174.9" r="1.7"/><circle cx="611.85" cy="174.9" r="1.7"/><circle cx="620.95" cy="174.9" r="1.7"/><circle cx="630" cy="174.9" r="1.7"/><circle cx="639.04" cy="174.9" r="1.7"/><circle cx="651.39" cy="174.9" r="1.7"/><circle cx="672.02" cy="174.9" r="1.7"/></g>
</g>
<g clip-path="url(#cr0)" fill="none">
<path d="M386.4 134V51.45H410.5V51.5H434.56V51.6H448.63V51.75H458.61V51.9H466.35V52.05H472.68V52.25H479.25V52.45H484.77V52.65H489.53V52.95H494.49V53.35H498.83V53.85H502.69V54.45H506.71V55.05H510.8V55.75H514.89V56.55H518.93V57.35H522.89V58.15H526.75V59.85H530.77V60.75H535.09V61.75H539.58V62.85H544.29V64.35H549.4V65.95H555.09V67.85H561.68V70.35H569.51V73.45H579.67V77.45H589.47V81.55H599.13V85.45H607.04V89.75H616.08V94.25H625.22V98.45H634.2V102.95H643.29V108.25H657.95V116.25H678.6" stroke="#ffcc03" stroke-width="1.2"/>
<path d="M386.4 134V51.31H410.5V51.44H434.56V51.52H448.63V51.62H458.61V51.73H466.35V51.79H472.68V51.89H479.25V52.01H484.77V52.14H489.53V52.42H494.49V52.85H498.83V53.39H502.69V54.03H506.71V54.71H510.8V55.5H514.89V56.41H518.93V57.24H522.89V58.07H526.75V59.78H530.77V60.7H535.09V61.77H539.58V62.94H544.29V64.52H549.4V66.04H555.09V67.81H561.68V70.35H569.51V73.5H579.67V77.57H589.47V81.68H599.13V85.58H607.04V89.84H616.08V94.32H625.22V98.45H634.2V102.9H643.29V108.18H657.95V116.25H678.6" stroke="#ff2a12" stroke-width="0.8"/>
<path d="M386.4 134V51.36H410.5V51.39H434.56V51.5H448.63V51.66H458.61V51.81H466.35V51.97H472.68V52.17H479.25V52.38H484.77V52.59H489.53V52.89H494.49V53.29H498.83V53.79H502.69V54.39H506.71V54.99H510.8V55.69H514.89V56.49H518.93V57.28H522.89V58.08H526.75V59.78H530.77V60.68H535.09V61.68H539.58V62.78H544.29V64.29H549.4V65.89H555.09V67.8H561.68V70.31H569.51V73.44H579.67V77.48H589.47V81.6H599.13V85.48H607.04V89.75H616.08V94.23H625.22V98.41H634.2V102.89H643.29V107.95H657.95V115.87H678.6" stroke="#a24df0" stroke-width="0.8"/>
<path d="M386.4 134V51.39H410.5V51.42H434.56V51.52H448.63V51.67H458.61V51.81H466.35V51.97H472.68V52.19H479.25V52.4H484.77V52.6H489.53V52.92H494.49V53.36H498.83V53.89H502.69V54.5H506.71V55.11H510.8V55.81H514.89V56.61H518.93V57.41H522.89V58.21H526.75V59.91H530.77V60.81H535.09V61.82H539.58V62.92H544.29V64.43H549.4V66.03H555.09V67.95H561.68V70.46H569.51V73.6H579.67V77.62H589.47V81.82H599.13V86.16H607.04V90.63H616.08V95.32H625.22V99.63H634.2V105.29H643.29V110.59H657.95V118.59H678.6" stroke="#1f78c8" stroke-width="0.8"/>
<path d="M386.4 134V50.56H410.5V50.73H434.56V51.02H448.63V51.15H458.61V51.39H466.35V51.73H472.68V51.84H479.25V52.16H484.77V52.39H489.53V52.7H494.49V53.1H498.83V53.59H502.69V54.2H506.71V54.79H510.8V55.51H514.89V56.26H518.93V57.1H522.89V57.88H526.75V59.58H530.77V60.49H535.09V61.5H539.58V62.6H544.29V64.12H549.4V65.73H555.09V67.64H561.68V70.16H569.51V73.28H579.67V77.31H589.47V81.44H599.13V85.35H607.04V89.66H616.08V94.16H625.22V98.36H634.2V102.86H643.29V108.16H657.95V116.16H678.6" stroke="#1ba34c" stroke-width="1.05"/>
</g>
<g fill="#000"><circle cx="393.7" cy="51.1" r="2.05"/><circle cx="424.57" cy="51.15" r="2.05"/><circle cx="442.3" cy="51.25" r="2.05"/><circle cx="453.98" cy="51.4" r="2.05"/><circle cx="462.7" cy="51.55" r="2.05"/><circle cx="469.66" cy="51.7" r="2.05"/><circle cx="476.12" cy="51.9" r="2.05"/><circle cx="482.12" cy="52.1" r="2.05"/><circle cx="487.23" cy="52.3" r="2.05"/><circle cx="492.1" cy="52.6" r="2.05"/><circle cx="496.73" cy="53" r="2.05"/><circle cx="500.82" cy="53.5" r="2.05"/><circle cx="504.76" cy="54.1" r="2.05"/><circle cx="508.82" cy="54.7" r="2.05"/><circle cx="512.9" cy="55.4" r="2.05"/><circle cx="516.97" cy="56.2" r="2.05"/><circle cx="520.96" cy="57" r="2.05"/><circle cx="524.87" cy="57.8" r="2.05"/><circle cx="528.81" cy="59.5" r="2.05"/><circle cx="533" cy="60.4" r="2.05"/><circle cx="537.41" cy="61.4" r="2.05"/><circle cx="542.01" cy="62.5" r="2.05"/><circle cx="546.94" cy="64" r="2.05"/><circle cx="552.36" cy="65.6" r="2.05"/><circle cx="558.54" cy="67.5" r="2.05"/><circle cx="565.82" cy="70" r="2.05"/><circle cx="574.97" cy="73.1" r="2.05"/><circle cx="584.92" cy="77.1" r="2.05"/><circle cx="594.64" cy="81.2" r="2.05"/><circle cx="603.31" cy="85.1" r="2.05"/><circle cx="611.85" cy="89.4" r="2.05"/><circle cx="620.95" cy="93.9" r="2.05"/><circle cx="630" cy="98.1" r="2.05"/><circle cx="639.04" cy="102.6" r="2.05"/><circle cx="651.39" cy="107.9" r="2.05"/><circle cx="672.02" cy="115.9" r="2.05"/></g>
<path d="M385.8 5.6H678.6V215.4H385.8ZM385.8 134H678.6" fill="none" stroke="#303030" stroke-width="0.9"/>
<path d="M634.2 215.4H678.6" stroke="#1f78c8" stroke-width="1.1" stroke-dasharray="2.2 1.4" fill="none"/>
<path d="M385.8 131.55h4.7M385.8 129.71h4.7M385.8 128.28h4.7M385.8 127.11h4.7M385.8 126.12h4.7M385.8 125.26h4.7M385.8 124.51h4.7M385.8 123.83h9.3M385.8 119.38h4.7M385.8 116.78h4.7M385.8 114.94h4.7M385.8 113.51h4.7M385.8 112.34h4.7M385.8 111.35h4.7M385.8 110.49h4.7M385.8 109.74h4.7M385.8 109.06h9.3M385.8 104.61h4.7M385.8 102.01h4.7M385.8 100.17h4.7M385.8 98.74h4.7M385.8 97.57h4.7M385.8 96.58h4.7M385.8 95.72h4.7M385.8 94.97h4.7M385.8 94.29h9.3M385.8 89.84h4.7M385.8 87.24h4.7M385.8 85.4h4.7M385.8 83.97h4.7M385.8 82.8h4.7M385.8 81.81h4.7M385.8 80.95h4.7M385.8 80.2h4.7M385.8 79.52h9.3M385.8 75.07h4.7M385.8 72.47h4.7M385.8 70.63h4.7M385.8 69.2h4.7M385.8 68.03h4.7M385.8 67.04h4.7M385.8 66.18h4.7M385.8 65.43h4.7M385.8 64.75h9.3M385.8 60.3h4.7M385.8 57.7h4.7M385.8 55.86h4.7M385.8 54.43h4.7M385.8 53.26h4.7M385.8 52.27h4.7M385.8 51.41h4.7M385.8 50.66h4.7M385.8 49.98h9.3M385.8 45.53h4.7M385.8 42.93h4.7M385.8 41.09h4.7M385.8 39.66h4.7M385.8 38.49h4.7M385.8 37.5h4.7M385.8 36.64h4.7M385.8 35.89h4.7M385.8 35.21h9.3M385.8 30.76h4.7M385.8 28.16h4.7M385.8 26.32h4.7M385.8 24.89h4.7M385.8 23.72h4.7M385.8 22.73h4.7M385.8 21.87h4.7M385.8 21.12h4.7M385.8 20.44h9.3M385.8 15.99h4.7M385.8 13.39h4.7M385.8 11.55h4.7M385.8 10.12h4.7M385.8 8.95h4.7M385.8 7.96h4.7M385.8 7.1h4.7M385.8 6.35h4.7M385.8 5.67h9.3" stroke="#2a2a2a" stroke-width="0.85" fill="none"/>
<path d="M385.8 208.88h2.8M385.8 206.76h5.5M385.8 204.64h2.8M385.8 202.51h2.8M385.8 200.39h2.8M385.8 198.26h2.8M385.8 196.14h5.5M385.8 194.02h2.8M385.8 191.89h2.8M385.8 189.77h2.8M385.8 187.64h2.8M385.8 185.52h5.5M385.8 183.4h2.8M385.8 181.27h2.8M385.8 179.15h2.8M385.8 177.02h2.8M385.8 174.9h5.5M385.8 172.78h2.8M385.8 170.65h2.8M385.8 168.53h2.8M385.8 166.4h2.8M385.8 164.28h5.5M385.8 162.16h2.8M385.8 160.03h2.8M385.8 157.91h2.8M385.8 155.78h2.8M385.8 153.66h5.5M385.8 151.54h2.8M385.8 149.41h2.8M385.8 147.29h2.8M385.8 145.16h2.8M385.8 143.04h5.5M385.8 140.92h2.8M385.8 138.79h2.8M385.8 136.67h2.8M386.45 134v-1.9M386.45 215.4v-1.9M400.52 134v-1.9M400.52 215.4v-1.9M410.5 134v-1.9M410.5 215.4v-1.9M418.25 134v-1.9M418.25 215.4v-1.9M424.57 134v-1.9M424.57 215.4v-1.9M429.92 134v-1.9M429.92 215.4v-1.9M434.56 134v-1.9M434.56 215.4v-1.9M438.64 134v-1.9M438.64 215.4v-1.9M442.3 134v-3.6M442.3 215.4v-3.6M466.35 134v-1.9M466.35 215.4v-1.9M480.42 134v-1.9M480.42 215.4v-1.9M490.4 134v-1.9M490.4 215.4v-1.9M498.15 134v-1.9M498.15 215.4v-1.9M504.47 134v-1.9M504.47 215.4v-1.9M509.82 134v-1.9M509.82 215.4v-1.9M514.46 134v-1.9M514.46 215.4v-1.9M518.54 134v-1.9M518.54 215.4v-1.9M522.2 134v-3.6M522.2 215.4v-3.6M546.25 134v-1.9M546.25 215.4v-1.9M560.32 134v-1.9M560.32 215.4v-1.9M570.3 134v-1.9M570.3 215.4v-1.9M578.05 134v-1.9M578.05 215.4v-1.9M584.37 134v-1.9M584.37 215.4v-1.9M589.72 134v-1.9M589.72 215.4v-1.9M594.36 134v-1.9M594.36 215.4v-1.9M598.44 134v-1.9M598.44 215.4v-1.9M602.1 134v-3.6M602.1 215.4v-3.6M626.15 134v-1.9M626.15 215.4v-1.9M640.22 134v-1.9M640.22 215.4v-1.9M650.2 134v-1.9M650.2 215.4v-1.9M657.95 134v-1.9M657.95 215.4v-1.9M664.27 134v-1.9M664.27 215.4v-1.9M669.62 134v-1.9M669.62 215.4v-1.9M674.26 134v-1.9M674.26 215.4v-1.9M678.34 134v-1.9M678.34 215.4v-1.9" stroke="#444" stroke-width="0.65" fill="none"/>
<text transform="translate(378.9 11.37) scale(0.92 1)" font-size="10.2" text-anchor="end" fill="#111" >10</text><text x="379.2" y="7.17" font-size="6.6" text-anchor="start" fill="#111">4</text>
<text transform="translate(378.9 25.34) scale(0.92 1)" font-size="10.2" text-anchor="end" fill="#111" >10</text><text x="379.2" y="21.14" font-size="6.6" text-anchor="start" fill="#111">3</text>
<text transform="translate(378.9 40.11) scale(0.92 1)" font-size="10.2" text-anchor="end" fill="#111" >10</text><text x="379.2" y="35.91" font-size="6.6" text-anchor="start" fill="#111">2</text>
<text transform="translate(375.2 84.42) scale(0.92 1)" font-size="10.2" text-anchor="end" fill="#111" >10</text><text x="375.5" y="80.22" font-size="6.6" text-anchor="start" fill="#111">−1</text>
<text transform="translate(375.2 99.19) scale(0.92 1)" font-size="10.2" text-anchor="end" fill="#111" >10</text><text x="375.5" y="94.99" font-size="6.6" text-anchor="start" fill="#111">−2</text>
<text transform="translate(375.2 113.96) scale(0.92 1)" font-size="10.2" text-anchor="end" fill="#111" >10</text><text x="375.5" y="109.76" font-size="6.6" text-anchor="start" fill="#111">−3</text>
<text transform="translate(375.2 128.73) scale(0.92 1)" font-size="10.2" text-anchor="end" fill="#111" >10</text><text x="375.5" y="124.53" font-size="6.6" text-anchor="start" fill="#111">−4</text>
<text transform="translate(381.4 54.58) scale(0.92 1)" font-size="10.2" text-anchor="end" fill="#111" >10</text>
<text transform="translate(381.4 69.35) scale(0.92 1)" font-size="10.2" text-anchor="end" fill="#111" >1</text>
<text transform="translate(384.5 146.69) scale(0.94 1)" font-size="10.7" text-anchor="end" fill="#111" >1.15</text>
<text transform="translate(384.5 157.31) scale(0.94 1)" font-size="10.7" text-anchor="end" fill="#111" >1.1</text>
<text transform="translate(384.5 167.93) scale(0.94 1)" font-size="10.7" text-anchor="end" fill="#111" >1.05</text>
<text transform="translate(384.5 178.55) scale(0.94 1)" font-size="10.7" text-anchor="end" fill="#111" >1</text>
<text transform="translate(384.5 189.17) scale(0.94 1)" font-size="10.7" text-anchor="end" fill="#111" >0.95</text>
<text transform="translate(384.5 199.79) scale(0.94 1)" font-size="10.7" text-anchor="end" fill="#111" >0.9</text>
<text transform="translate(384.5 210.41) scale(0.94 1)" font-size="10.7" text-anchor="end" fill="#111" >0.85</text>
<text transform="translate(444.8 230) scale(0.92 1)" font-size="10.2" text-anchor="end" fill="#111" >10</text><text x="445.1" y="225.8" font-size="6.6" text-anchor="start" fill="#111">−2</text>
<text transform="translate(524.5 230) scale(0.92 1)" font-size="10.2" text-anchor="end" fill="#111" >10</text><text x="524.8" y="225.8" font-size="6.6" text-anchor="start" fill="#111">−1</text>
<text transform="translate(602.1 230.2) scale(0.96 1)" font-size="10.8" text-anchor="middle" fill="#111" >1</text>
<g fill="#111"><text x="662.8" y="236.2" font-size="11.6">ϕ</text><path d="M671.80 226.75L671.80 230.25M673.32 227.62L670.28 229.38M673.32 229.38L670.28 227.62" stroke="#111" stroke-width="0.7" fill="none"/><text x="670.3" y="238.8" font-size="7.2">η</text></g>
<g transform="translate(358.7 60.6) rotate(-90)" fill="#111" font-size="10.6" style="stroke-width:0.25px"><text x="0" y="0" textLength="45.0" lengthAdjust="spacingAndGlyphs">1/σ dσ/dϕ</text><path d="M48.80 -6.35L48.80 -2.85M50.32 -5.48L47.28 -3.72M50.32 -3.73L47.28 -5.47" stroke="#111" stroke-width="0.7" fill="none"/><text x="47.0" y="3.4" font-size="7.0">η</text></g>
<g transform="translate(360.7 182.0) rotate(-90)"><text id="mc2" x="0" y="0" font-size="10.2" fill="#111">MC / Data</text></g>
<text transform="translate(396.3 17.9) scale(1 1.1)" font-size="9.7" fill="#111" font-weight="bold" font-style="italic" style="stroke-width:0.15px">ATLAS</text>
<g fill="#111" style="stroke-width:0.12px"><path d="M396.5 26.7l0.9 -0.5l1.1 3.4l1.7 -8.3h4.7" fill="none" stroke="#111" stroke-width="0.6"/><text x="400" y="29.3" font-size="8.2">s=13 TeV, 36.1 fb<tspan font-size="5" dy="-3.6">-1</tspan></text></g>
<circle cx="553.2" cy="12.0" r="2.05" fill="#000"/><rect x="543.9" y="18.5" width="18.1" height="6.5" fill="#ffcc03"/><path d="M543.9 21.7H562" stroke="#ff2a12" stroke-width="1.25"/><rect x="543.9" y="27.9" width="18.1" height="6.7" fill="#33fb99"/><path d="M543.9 31.3H562" stroke="#1ba34c" stroke-width="1.15"/><path d="M543.9 40.4H562" stroke="#1f78c8" stroke-width="1.3"/><path d="M543.9 49.6H562" stroke="#a24df0" stroke-width="1.4"/><path d="M552.95 21.1v1.2M552.95 30.7v1.2M552.95 39.9v1M552.95 49.1v1" stroke="#222" stroke-width="0.7" opacity="0.7"/><g font-size="7.3" fill="#111" style="stroke-width:0.1px"><text x="565.9" y="14.1">Data</text><text x="565.9" y="24.2">Sherpa v2.2.1</text><text x="565.9" y="33.6">RadISH+NNLOjet NNLO+N<tspan font-size="4.8" dy="-3.9">3</tspan><tspan dy="3.9">LL</tspan></text><text x="565.9" y="43.0">Powheg+Pythia8 (AZNLO tune)</text><text x="565.9" y="51.8">Pythia8 (AZ-Tune)</text></g>
</svg>
</body></html>
